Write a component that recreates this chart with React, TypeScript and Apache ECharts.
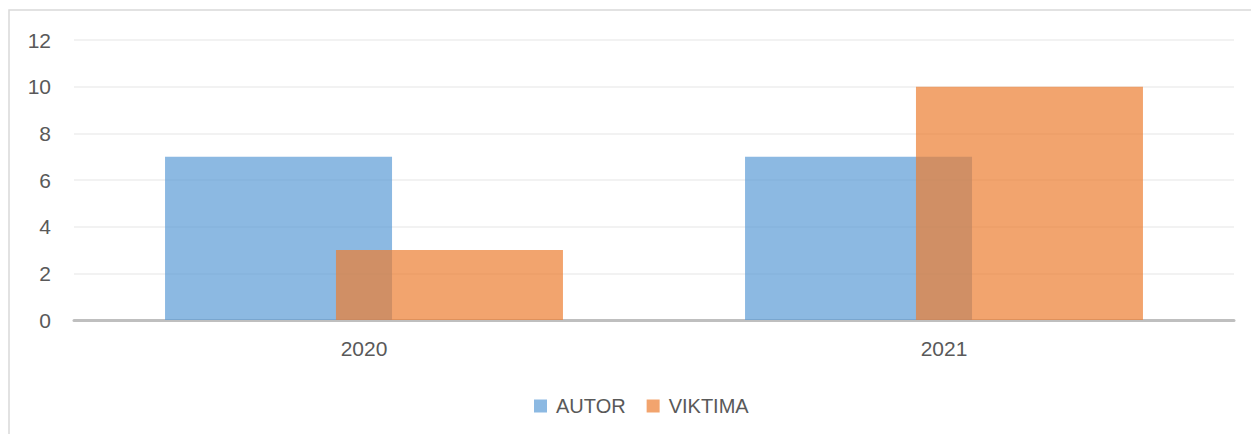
import React, { useEffect, useRef } from "react";
import * as echarts from "echarts";

const categories = ["2020", "2021"];
const autorValues = [7, 7];
const viktimaValues = [3, 10];
const seriesNames = ["AUTOR", "VIKTIMA"];
const yTicks = { min: 0, max: 12, interval: 2 };

export default function App() {
  const ref = useRef<HTMLDivElement>(null);
  useEffect(() => {
    if (!ref.current) return;
    const chart = echarts.init(ref.current, null, { renderer: "svg" });
    const font = "'Liberation Sans', Arial, sans-serif";
    chart.setOption({
      animation: false,
      backgroundColor: "#ffffff",
      textStyle: { fontFamily: font },
      graphic: [
        {
          type: "rect",
          shape: { x: 9, y: 10, width: 1400, height: 600 },
          style: { fill: "none", stroke: "#D9D9D9", lineWidth: 1.5 },
          silent: true,
          z: -1,
        },
      ],
      grid: { left: 74, right: 17, top: 40, bottom: 114 },
      legend: {
        data: seriesNames,
        left: 529,
        top: 391,
        icon: "rect",
        itemWidth: 13,
        itemHeight: 13,
        itemGap: 21,
        textStyle: { color: "#595959", fontSize: 20, fontFamily: font, padding: [0, 0, 0, 4] },
      },
      xAxis: {
        type: "category",
        data: categories,
        axisLine: { show: true, lineStyle: { color: "#BFBFBF", width: 3 } },
        axisTick: { show: false },
        axisLabel: { color: "#595959", fontSize: 21, margin: 18, fontFamily: font },
        splitLine: { show: false },
      },
      yAxis: {
        type: "value",
        min: yTicks.min,
        max: yTicks.max,
        interval: yTicks.interval,
        axisLine: { show: false },
        axisTick: { show: false },
        axisLabel: { color: "#595959", fontSize: 21, margin: 23, fontFamily: font },
        splitLine: { lineStyle: { color: "#EEEEEE", width: 1.5 } },
      },
      series: [
        {
          name: seriesNames[0],
          type: "bar",
          data: autorValues,
          barWidth: 227,
          barGap: "-24.7%",
          itemStyle: { color: "#5B9BD5", opacity: 0.7 },
        },
        {
          name: seriesNames[1],
          type: "bar",
          data: viktimaValues,
          barWidth: 227,
          barGap: "-24.7%",
          itemStyle: { color: "#ED7D31", opacity: 0.7 },
        },
      ],
    });
    return () => chart.dispose();
  }, []);
  return (
    <div
      ref={ref}
      style={{ position: "absolute", left: 0, top: 0, width: 1251, height: 434 }}
    />
  );
}
